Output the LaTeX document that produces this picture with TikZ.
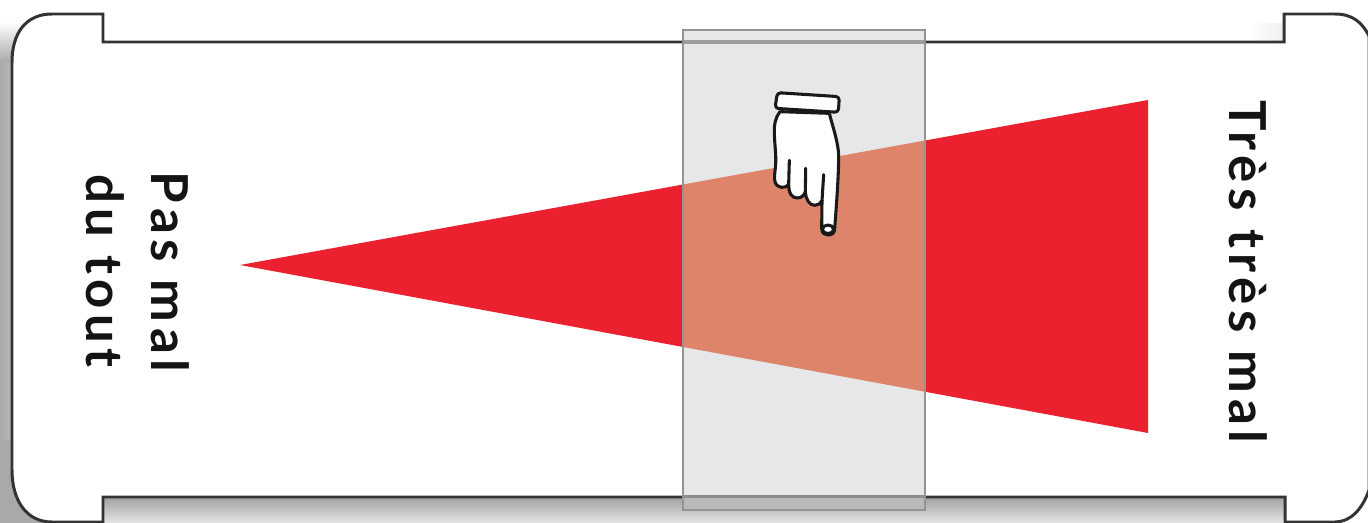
\documentclass[tikz,border=0pt]{standalone}
\usepackage{fontspec}
\setmainfont{Lato}[LetterSpace=11,BoldFont={Lato Bold}]
\definecolor{redtri}{HTML}{EC2130}
\definecolor{salmon}{HTML}{DD846A}
\definecolor{bandgray}{HTML}{E6E7E8}
\definecolor{bandlow}{HTML}{B9BABC}
\definecolor{shadowgray}{HTML}{A8A9AB}
\definecolor{ink}{HTML}{333335}
\tikzset{
  board/.style={draw=ink,line width=1.7pt,fill=white,line join=miter},
  handline/.style={draw=black!90,line width=1.75pt,line join=round,line cap=round},
  label/.style={rotate=-90,font=\fontsize{29}{36}\selectfont\bfseries,text=black!92,inner sep=0pt,anchor=center}
}
\begin{document}
\begin{tikzpicture}[x=0.02cm,y=-0.02cm]
\useasboundingbox (0,0) rectangle (1368,523);
% shadows
\shade[left color=shadowgray,right color=shadowgray!80] (0,62) rectangle (14,523);
\shade[top color=white,bottom color=shadowgray] (0,22) rectangle (30,62);
\fill[shadowgray] (0,440) rectangle (70,523);
\shade[top color=shadowgray!95!black,bottom color=white!70!shadowgray] (70,497) rectangle (1300,523);
\shade[left color=white,right color=white!82!shadowgray] (1250,24) rectangle (1284,42);
% board
\draw[board] (12,62) .. controls (12,33) and (26,14) .. (52,14) -- (103,14) -- (103,42)
  -- (1284,42) -- (1284,14) -- (1335,14) .. controls (1352,14) and (1362,22) .. (1369,36)
  -- (1369,490) .. controls (1362,510) and (1350,522) .. (1335,522) -- (1285,522) -- (1285,497)
  -- (103,497) -- (103,522) -- (52,522) .. controls (26,522) and (12,500) .. (12,470) -- cycle;
% red wedge
\fill[redtri] (240,265) -- (1148,100) -- (1148,433) -- cycle;
% sliding band
\fill[bandgray] (683,30) rectangle (925,497);
\fill[bandlow] (683,497) rectangle (925,510);
\begin{scope}
  \clip (683,30) rectangle (925,510);
  \fill[salmon] (240,265) -- (1148,100) -- (1148,433) -- cycle;
\end{scope}
\draw[black!38,line width=2pt] (683,42) -- (925,42);
\draw[black!45,line width=2pt] (683,496.5) -- (925,496.5);
\draw[black!42,line width=1.1pt] (683,30) rectangle (925,510);
% hand
\begin{scope}[shift={(740,80)},x=0.00667cm,y=-0.00667cm]
  \draw[handline,fill=white] (120,95) .. controls (105,115) and (102,135) .. (103,160)
    .. controls (104,200) and (110,230) .. (106,265) .. controls (102,295) and (100,318) .. (125,322)
    .. controls (135,323) and (142,320) .. (146,312)
    .. controls (146,340) and (155,354) .. (172,354) .. controls (185,354) and (193,345) .. (196,335)
    .. controls (198,360) and (208,376) .. (225,376) .. controls (235,376) and (242,370) .. (246,362)
    -- (245,445) .. controls (245,460) and (255,465) .. (264,465) .. controls (277,465) and (284,458) .. (284,445)
    .. controls (290,370) and (296,280) .. (296,230) .. controls (296,190) and (278,140) .. (268,100) -- cycle;
  \draw[handline] (148,241) -- (146,312);
  \draw[handline] (197,265) -- (196,335);
  \draw[handline] (251,284) -- (246,362);
  \draw[handline,fill=white] (264,448) ellipse [x radius=17,y radius=13];
  \draw[handline,fill=white,rounded corners=2pt] (112,38) -- (298,50) -- (295,97) -- (105,85) -- cycle;
\end{scope}
% texts
\node[label] (pas) at (170,272) {Pas mal};
\node[label] (du) at (105,271) {du tout};
\node[label] (tres) at (1248,272) {Très très mal};
\end{tikzpicture}
\end{document}
